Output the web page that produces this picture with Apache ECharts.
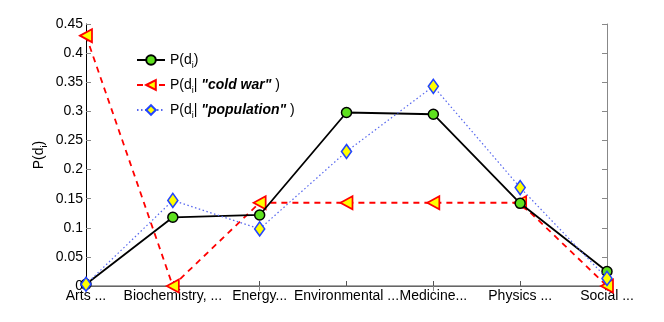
<!DOCTYPE html>
<html>
<head>
<meta charset="utf-8">
<script src="https://cdn.jsdelivr.net/npm/echarts@6/dist/echarts.min.js"></script>
<style>
  html, body { margin: 0; padding: 0; background: #fff; }
  #main { width: 664px; height: 322px; }
</style>
</head>
<body>
<div id="main"></div>
<script>
const categories = ['Arts ...', 'Biochemistry, ...', 'Energy...', 'Environmental ...', 'Medicine...', 'Physics ...', 'Social ...'];
const prior = [0.003, 0.118, 0.122, 0.298, 0.295, 0.142, 0.025];
const coldWar = [0.43, 0.0, 0.143, 0.143, 0.143, 0.143, 0.0];
const population = [0.003, 0.147, 0.098, 0.231, 0.343, 0.169, 0.013];
const seriesNames = ['prior', 'coldwar', 'population'];

const chart = echarts.init(document.getElementById('main'));
const font = 'Liberation Sans, Arial, sans-serif';

const rich = {
  n: { fontFamily: font, fontSize: 14, color: '#000' },
  s: { fontFamily: font, fontSize: 9, color: '#000', padding: [11, 0, 0, 0] },
  b: { fontFamily: font, fontSize: 14, color: '#000', fontWeight: 'bold', fontStyle: 'italic' }
};

const legendText = {
  prior: '{n|P(d}{s|i}{n|)}',
  coldwar: '{n|P(d}{s|i}{n|| }{b|"cold war"}{n| )}',
  population: '{n|P(d}{s|i}{n|| }{b|"population"}{n| )}'
};

chart.setOption({
  animation: false,
  grid: { left: 86, right: 57, top: 24, bottom: 36 },
  legend: {
    orient: 'vertical',
    left: 131,
    top: 48,
    itemWidth: 28,
    itemHeight: 12,
    itemGap: 8,
    data: seriesNames,
    formatter: name => legendText[name],
    textStyle: { rich: rich }
  },
  xAxis: [{
    type: 'category',
    data: categories,
    boundaryGap: false,
    axisLine: { lineStyle: { color: '#000', width: 1 } },
    axisTick: { inside: true, length: 5, alignWithLabel: true, lineStyle: { color: '#555' } },
    axisLabel: { interval: 0, color: '#000', fontFamily: font, fontSize: 14, margin: 3 }
  }, {
    type: 'category',
    data: categories,
    position: 'top',
    boundaryGap: false,
    axisLine: { lineStyle: { color: '#888', width: 1.5 } },
    axisTick: { inside: true, length: 5, lineStyle: { color: '#888' } },
    axisLabel: { show: false }
  }],
  yAxis: [{
    type: 'value',
    min: 0,
    max: 0.45,
    interval: 0.05,
    name: '{n|P(d}{s|i}{n|)}',
    nameLocation: 'middle',
    nameGap: 37,
    nameRotate: 90,
    nameMoveOverlap: false,
    nameTextStyle: { rich: rich },
    splitLine: { show: false },
    axisLine: { show: true, lineStyle: { color: '#000', width: 1 } },
    axisTick: { show: true, inside: true, length: 5, lineStyle: { color: '#888' } },
    axisLabel: { color: '#000', fontFamily: font, fontSize: 14, margin: 3 }
  }, {
    type: 'value',
    min: 0,
    max: 0.45,
    interval: 0.05,
    position: 'right',
    splitLine: { show: false },
    axisLine: { show: true, lineStyle: { color: '#888', width: 1 } },
    axisTick: { show: true, inside: true, length: 5, lineStyle: { color: '#888' } },
    axisLabel: { show: false }
  }],
  series: [{
    name: 'prior',
    type: 'line',
    data: prior,
    symbol: 'circle',
    symbolSize: 10,
    lineStyle: { color: '#000', width: 1.8 },
    itemStyle: { color: '#5ee01e', borderColor: '#000', borderWidth: 1.5 },
    z: 3
  }, {
    name: 'coldwar',
    type: 'line',
    data: coldWar,
    symbol: 'triangle',
    symbolRotate: 90,
    symbolSize: [13, 12],
    lineStyle: { color: '#ff0000', width: 1.8, type: [6, 5] },
    itemStyle: { color: '#ffff00', borderColor: '#ff0000', borderWidth: 1.8 },
    z: 2
  }, {
    name: 'population',
    type: 'line',
    data: population,
    symbol: 'diamond',
    symbolSize: [10, 14],
    lineStyle: { color: '#5566ee', width: 1.2, type: [1.5, 2.5] },
    itemStyle: { color: '#ffff00', borderColor: '#2244ff', borderWidth: 1.6 },
    z: 4
  }]
});
</script>
</body>
</html>
